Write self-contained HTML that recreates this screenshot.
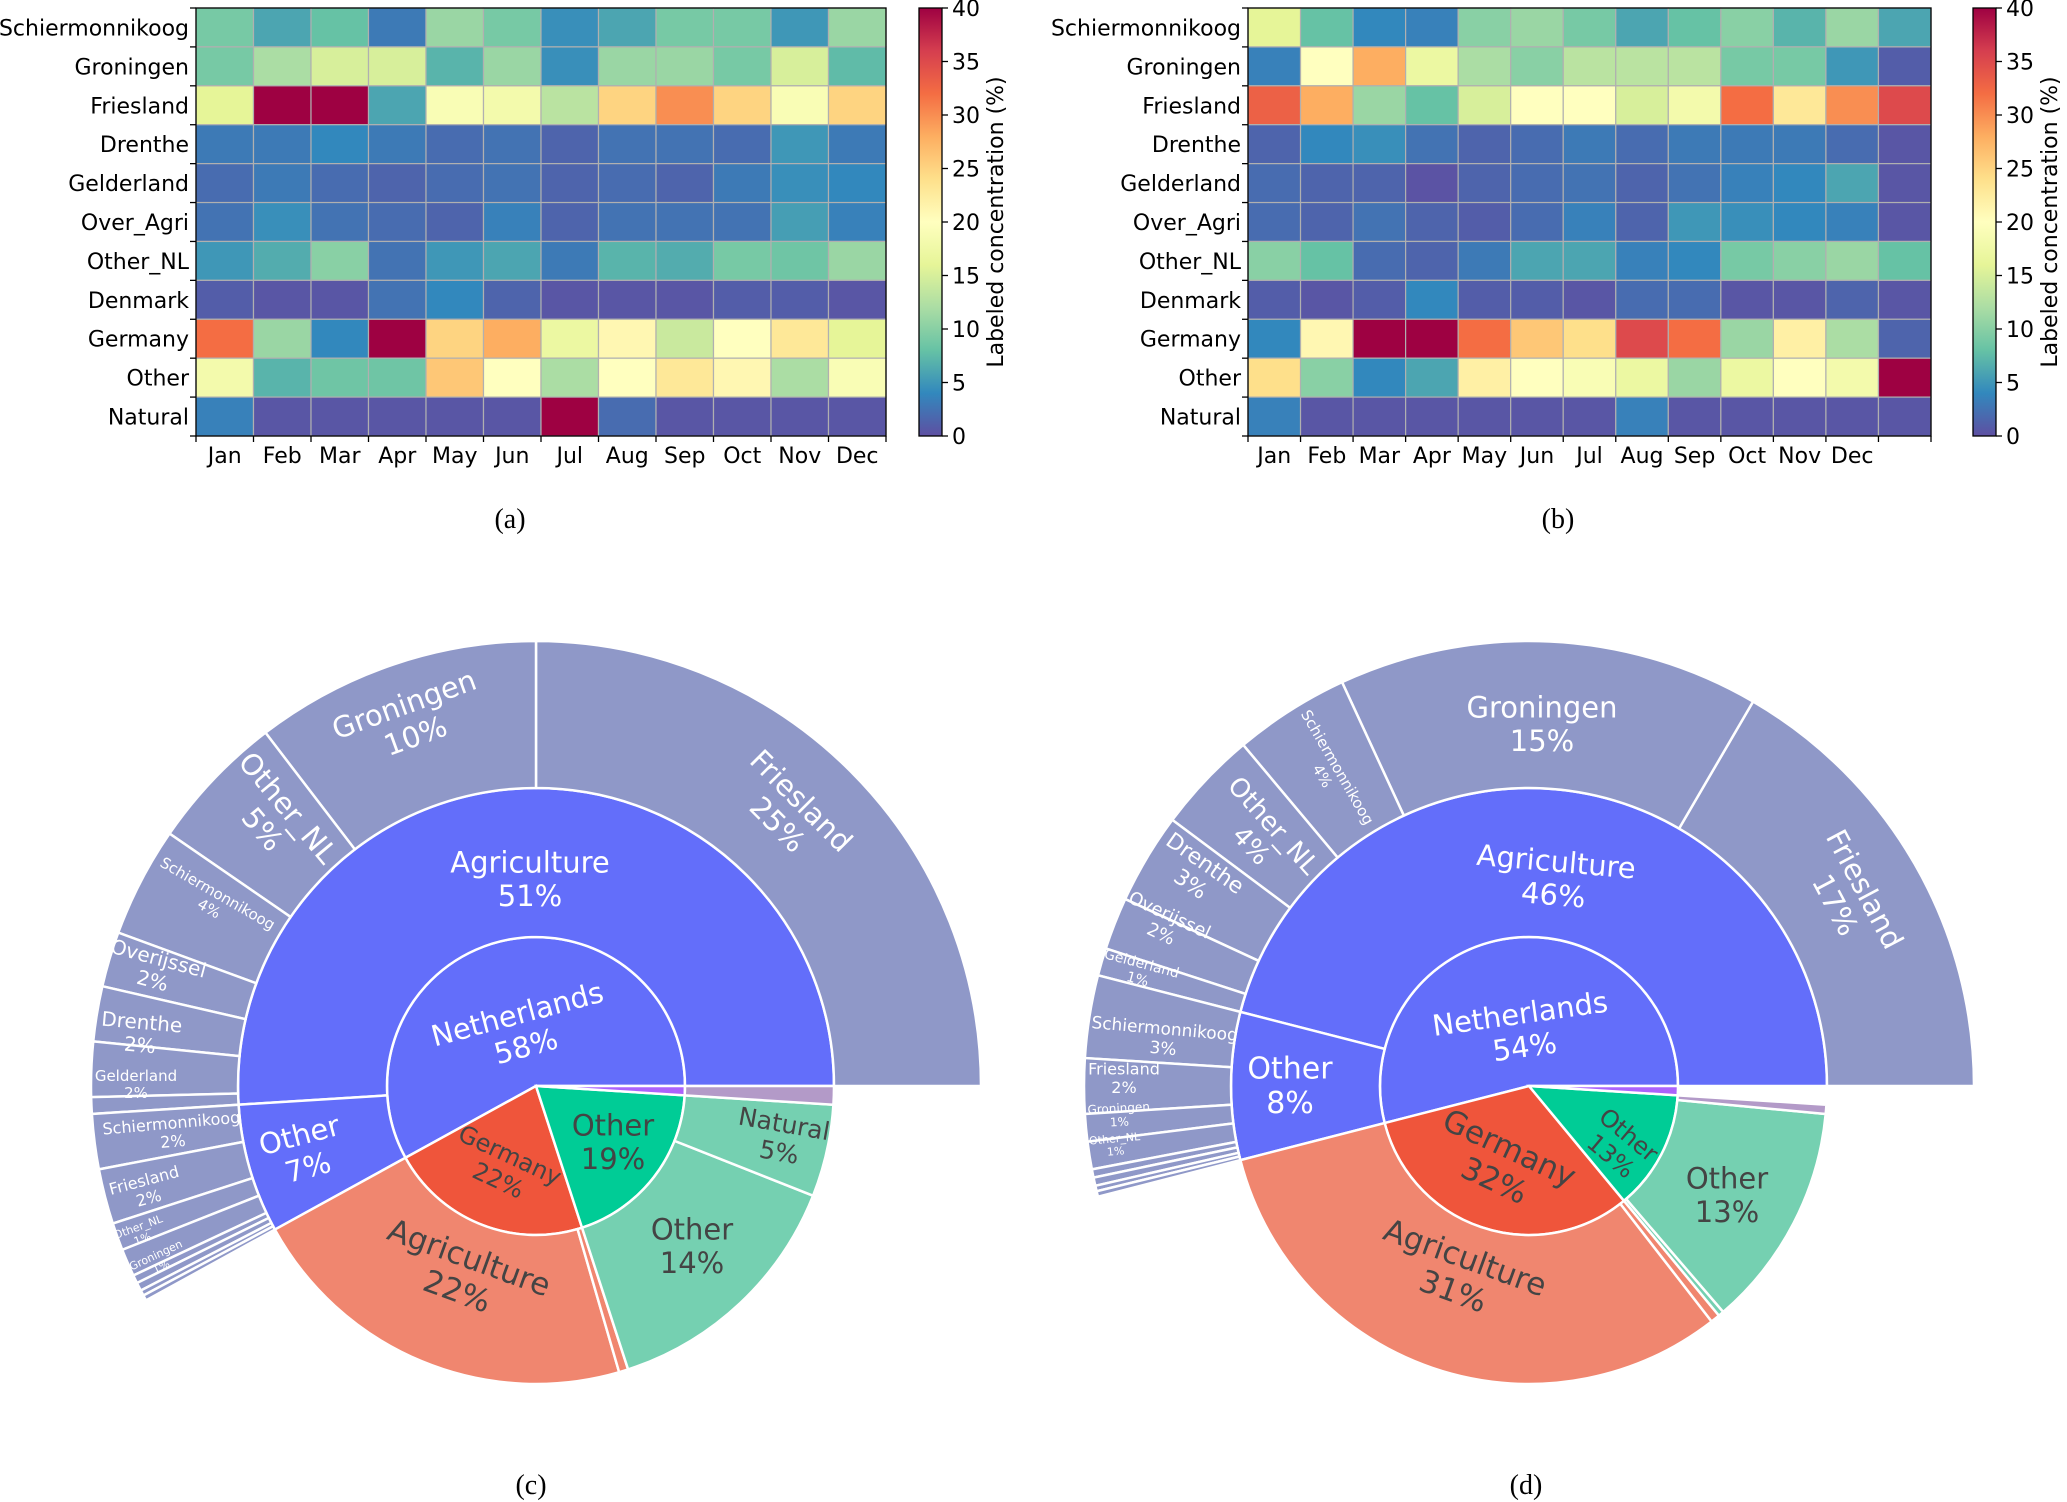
<!DOCTYPE html>
<html><head><meta charset="utf-8"><style>
html,body{margin:0;padding:0;background:#fff;}
svg{display:block;}
.tk{font-family:"DejaVu Sans","Liberation Sans",sans-serif;font-size:22px;fill:#000;}
.cap{font-family:"Liberation Serif",serif;font-size:28px;fill:#000;}
.sb{font-family:"DejaVu Sans","Liberation Sans",sans-serif;}
</style></head><body>
<svg id="root" width="2067" height="1502" viewBox="0 0 2067 1502" xmlns="http://www.w3.org/2000/svg">
<defs>
<linearGradient id="spec" x1="0" y1="1" x2="0" y2="0">
<stop offset="0" stop-color="#5e4fa2"/><stop offset="0.1" stop-color="#3288bd"/><stop offset="0.2" stop-color="#66c2a5"/><stop offset="0.3" stop-color="#abdda4"/><stop offset="0.4" stop-color="#e6f598"/><stop offset="0.5" stop-color="#ffffbf"/><stop offset="0.6" stop-color="#fee08b"/><stop offset="0.7" stop-color="#fdae61"/><stop offset="0.8" stop-color="#f46d43"/><stop offset="0.9" stop-color="#d53e4f"/><stop offset="1" stop-color="#9e0142"/>
</linearGradient>
</defs>
<g id="hmA"></g>
<g id="hmB"></g>
<g id="sbC"></g>
<g id="sbD"></g>
<text class="cap" x="510" y="528" text-anchor="middle">(a)</text>
<text class="cap" x="1558" y="528" text-anchor="middle">(b)</text>
<text class="cap" x="531" y="1494" text-anchor="middle">(c)</text>
<text class="cap" x="1526" y="1494" text-anchor="middle">(d)</text>
</svg>
<script>
const rowsLabels = ["Schiermonnikoog","Groningen","Friesland","Drenthe","Gelderland","Over_Agri","Other_NL","Denmark","Germany","Other","Natural"];
const monthLabels = ["Jan","Feb","Mar","Apr","May","Jun","Jul","Aug","Sep","Oct","Nov","Dec"];
const cbTicks = [0,5,10,15,20,25,30,35,40];
const valuesA = [
[9,6,8,3,11,9,4.5,6,9,9,5,11],
[9,12,15,15,7,11,4.5,11,11,9,15,7.5],
[16,40,40,6,19,18,13,25,30,25,19,25],
[3,3,4,3,2,2.5,1.5,2.5,2.5,2,5,3],
[2,3,2,1.5,2,2.5,1.5,2,1.5,3,4.5,4],
[2.5,4.5,2.5,2,1.5,3.5,1.5,2.5,2.5,2.5,5.5,3.5],
[5,6.5,10,2.5,5,6,3,7,6.5,9,8.5,11],
[1,0.5,0.5,2.5,4,1.5,0.5,0.5,0.5,1,1,0.5],
[32,11,4,40,25,28,17,21,14,20,23,16],
[18,7,8.5,8.5,26,20,12,20,23,21,12,19],
[3.5,0.5,0.5,0.5,0.5,0.5,40,2,0.5,0.5,0.5,0.5]];
const valuesB = [
[16,8,4,3.5,10,11,9,6,8,10,7,11,6],
[3.5,20,28,17,12,10,13,13,13,9,9,5,1],
[33,28,11,8,15,20,20,15,18,32,23,30,35],
[1.5,4,4.5,2.5,1.5,2,3,2,3,3,3,2,0.5],
[2,1.5,1.5,0.3,1.5,2,2.5,1.5,2.5,3.5,4,6,0.5],
[2,1.5,2.5,1.5,1,2,3.5,1.5,5,4.5,4,3.5,0.5],
[10,8,2,1.5,3,6,6,3.5,4,9,10,11,8],
[1,0.5,1,4,1,1,0.5,2,2,0.5,0.5,1.5,0.5],
[4,21,40,40,32,26,24,35,32,11,22,12,1.5],
[24,10,4,6,22,20,19,17,11,17,20,18,40],
[3.5,0.5,0.5,0.5,0.5,0.5,0.5,3.5,0.5,0.5,0.5,0.5,0.5]];

const NS="http://www.w3.org/2000/svg";
const stops=["#5e4fa2","#3288bd","#66c2a5","#abdda4","#e6f598","#ffffbf","#fee08b","#fdae61","#f46d43","#d53e4f","#9e0142"].map(h=>[parseInt(h.substr(1,2),16),parseInt(h.substr(3,2),16),parseInt(h.substr(5,2),16)]);
function cmap(v){let t=Math.max(0,Math.min(1,v/40))*10;let i=Math.min(9,Math.floor(t));let f=t-i;let a=stops[i],b=stops[i+1];return "rgb("+a.map((c,k)=>Math.round(c+(b[k]-c)*f)).join(",")+")";}
function mk(tag,attrs,parent){const e=document.createElementNS(NS,tag);for(const k in attrs)e.setAttribute(k,attrs[k]);parent.appendChild(e);return e;}

function heatmap(g,vals,x0,x1,y0,y1,cbx,nTicksX){
  const nr=vals.length,nc=vals[0].length;
  const cw=(x1-x0)/nc,ch=(y1-y0)/nr;
  const xs=j=>x0+j*cw, ys=i=>y0+i*ch;
  for(let i=0;i<nr;i++)for(let j=0;j<nc;j++){
    const r=mk("rect",{x:xs(j),y:ys(i),width:cw,height:ch,fill:cmap(vals[i][j]),stroke:"#b0b0b0","stroke-width":1.2},g);
    
    
  }
  mk("rect",{x:x0,y:y0,width:x1-x0,height:y1-y0,fill:"none",stroke:"#000","stroke-width":1.3},g);
  for(let i=0;i<nr;i++){
    mk("line",{x1:x0-6,x2:x0,y1:ys(i+1),y2:ys(i+1),stroke:"#000","stroke-width":1.3},g);
    const t=mk("text",{x:x0-7,y:ys(i)+ch/2+8,"text-anchor":"end",class:"tk"},g);t.textContent=rowsLabels[i];
    
    
  }
  mk("line",{x1:x0-6,x2:x0,y1:y0,y2:y0,stroke:"#000","stroke-width":1.3},g);
  const tcw=(x1-x0)/nTicksX;
  for(let j=0;j<=nTicksX;j++){mk("line",{x1:x0+j*tcw,x2:x0+j*tcw,y1:y1,y2:y1+6,stroke:"#000","stroke-width":1.3},g);}
  for(let j=0;j<monthLabels.length;j++){
    const t=mk("text",{x:x0+(j+0.5)*tcw,y:y1+27,"text-anchor":"middle",class:"tk"},g);t.textContent=monthLabels[j];
    
    
  }
  const cb=mk("rect",{x:cbx,y:y0,width:23,height:y1-y0,fill:"url(#spec)",stroke:"#000","stroke-width":1.3},g);
  
  
  cbTicks.forEach(v=>{const y=y1-(v/40)*(y1-y0);
    mk("line",{x1:cbx+23,x2:cbx+29,y1:y,y2:y,stroke:"#000","stroke-width":1.3},g);
    const t=mk("text",{x:cbx+33,y:y+8,class:"tk"},g);t.textContent=v;
    
    });
  const lx=cbx+84,ly=(y0+y1)/2;
  const t=mk("text",{x:lx,y:ly,class:"tk","font-size":21,"text-anchor":"middle",transform:"rotate(-90 "+lx+" "+ly+")"},g);t.textContent="Labeled concentration (%)";
  
  
}
heatmap(document.getElementById("hmA"),valuesA,196,886,8,436,919,12);
heatmap(document.getElementById("hmB"),valuesB,1248,1931,8,436,1973,13);

/* ---------- Sunbursts ---------- */
const c_ring1 = [58,22,19,1];
const c_ring1Names = ["Netherlands","Germany","Other","Denmark"];
const c_ring2 = [51,7,21.5,0.5,14,5,1];
const c_ring2Names = ["Agriculture","Other","Agriculture","Other","Other","Natural","Agriculture"];
const c_ring3 = [25,10.4,5,4,2,2,2,0.6, 2,2,1,1,0.3,0.3,0.2,0.2, 42];
const c_ring3Names = ["Friesland","Groningen","Other_NL","Schiermonnikoog","Overijssel","Drenthe","Gelderland","minor","Schiermonnikoog","Friesland","Other_NL","Groningen","minor","minor","minor","minor","gap"];
const d_ring1 = [54,32,13,1];
const d_ring2 = [46,8,31.5,0.5,0.3,12.2,0.5];
const d_ring2Names = ["Agriculture","Other","Agriculture","Other","Other","Other","Agriculture"];
const d_ring3 = [16.6,15.3,4.2,3.7,3.3,1.9,1.0, 3,2,1,1,0.3,0.3,0.2,0.2, 46];
const d_ring3Names = ["Friesland","Groningen","Schiermonnikoog","Other_NL","Drenthe","Overijssel","Gelderland","Schiermonnikoog","Friesland","Groningen","Other_NL","minor","minor","minor","minor","gap"];

const col1=["#636efa","#ef553b","#00cc96","#ab63fa"];
function arcPath(cx,cy,r0,r1,a0,a1){
  const rad=a=>a*Math.PI/180;
  const p=(r,a)=>[(cx+r*Math.cos(rad(a))).toFixed(2),(cy-r*Math.sin(rad(a))).toFixed(2)];
  const large=(a1-a0)>180?1:0;
  const [x1,y1]=p(r1,a0),[x2,y2]=p(r1,a1),[x3,y3]=p(r0,a1),[x4,y4]=p(r0,a0);
  if(r0<=0) return `M${cx},${cy}L${x1},${y1}A${r1},${r1} 0 ${large} 0 ${x2},${y2}Z`;
  return `M${x1},${y1}A${r1},${r1} 0 ${large} 0 ${x2},${y2}L${x3},${y3}A${r0},${r0} 0 ${large} 1 ${x4},${y4}Z`;
}
function ring(g,vals,names,colors,cx,cy,r0,r1,prefix){
  let acc=0;
  vals.forEach((v,i)=>{
    const a0=acc*3.6,a1=(acc+v)*3.6;acc+=v;
    if(names[i]==="gap"||colors[i]===null)return;
    const p=mk("path",{d:arcPath(cx,cy,r0,r1,a0,a1),fill:colors[i],stroke:"#fff","stroke-width":2.5},g);
    
    
  });
}
function sunburst(g,r1v,r2v,r2n,r3v,r3n,r2cols,cx,cy){
  ring(g,r1v,c_ring1Names,col1,cx,cy,0,149,'ring1');
  ring(g,r2v,r2n,r2cols,cx,cy,149,298,'ring2');
  ring(g,r3v,r3n,r3n.map(n=>n==="gap"?null:"#8f98c8"),cx,cy,298,445,'ring3');
}
sunburst(document.getElementById("sbC"),c_ring1,c_ring2,c_ring2Names,c_ring3,c_ring3Names,
  ["#636efa","#636efa","#f0866f","#f0866f","#75d0b1","#75d0b1","#b39ac8"],536,1086);
sunburst(document.getElementById("sbD"),d_ring1,d_ring2,d_ring2Names,d_ring3,d_ring3Names,
  ["#636efa","#636efa","#f0866f","#f0866f","#75d0b1","#75d0b1","#b39ac8"],1529,1086);

/* labels (static text placement) */
const labelsC=[
["Netherlands","58%",521,1028,-15,29,"#fff"],["Agriculture","51%",530,877,0,29,"#fff"],
["Friesland","25%",791,811,45,29,"#fff"],["Groningen","10%",409,718,-20,29,"#fff"],
["Other_NL","5%",277,817,50,29,"#fff"],["Schiermonnikoog","4%",214,900,30,15,"#fff"],
["Overijssel","2%",156,968,15,20,"#fff"],["Drenthe","2%",141,1032,5,20,"#fff"],
["Gelderland","2%",136,1083,0,15,"#fff"],["Schiermonnikoog","2%",172,1131,-5,16,"#fff"],
["Friesland","2%",146,1188,-15,16,"#fff"],["Other_NL","1%",140,1232,-20,11,"#fff"],
["Groningen","1%",158,1260,-25,11,"#fff"],["Other","7%",303,1149,-15,29,"#fff"],
["Germany","22%",505,1166,25,24,"#444"],["Agriculture","22%",464,1272,20,31,"#444"],
["Other","19%",613,1140,0,29,"#444"],["Natural","5%",782,1136,10,25,"#444"],["Other","14%",692,1244,0,29,"#444"]];
const labelsD=[
["Netherlands","54%",1522,1028,-8,29,"#fff"],["Agriculture","46%",1555,876,5,29,"#fff"],
["Groningen","15%",1542,722,0,29,"#fff"],["Friesland","17%",1852,896,62,29,"#fff"],
["Schiermonnikoog","4%",1331,771,60,15,"#fff"],["Other_NL","4%",1264,834,48,26,"#fff"],
["Drenthe","3%",1199,872,35,22,"#fff"],["Overijssel","2%",1166,923,25,18,"#fff"],
["Gelderland","1%",1140,970,15,14,"#fff"],["Schiermonnikoog","3%",1164,1037,5,17,"#fff"],
["Friesland","2%",1124,1077,0,16,"#fff"],["Groningen","1%",1119,1114,-3,12,"#fff"],
["Other_NL","1%",1115,1144,-5,11,"#fff"],["Other","8%",1290,1083,0,30,"#fff"],
["Germany","32%",1503,1162,25,31,"#444"],["Agriculture","31%",1460,1272,20,31,"#444"],
["Other","13%",1621,1144,40,24,"#444"],["Other","13%",1727,1193,0,29,"#444"]];
function putLabels(gid,arr){
  const g=document.getElementById(gid);
  arr.forEach(([n,p,x,y,rot,fs,fill])=>{
    const t=mk("text",{x:x,y:y,class:"sb","text-anchor":"middle","font-size":fs,fill:fill,transform:`rotate(${rot} ${x} ${y})`},g);
    
    
    const s1=mk("tspan",{x:x,dy:-fs*0.15},t);s1.textContent=n;
    const s2=mk("tspan",{x:x,dy:fs*1.15},t);s2.textContent=p;
  });
}
putLabels("sbC",labelsC);putLabels("sbD",labelsD);
</script>
</body></html>
